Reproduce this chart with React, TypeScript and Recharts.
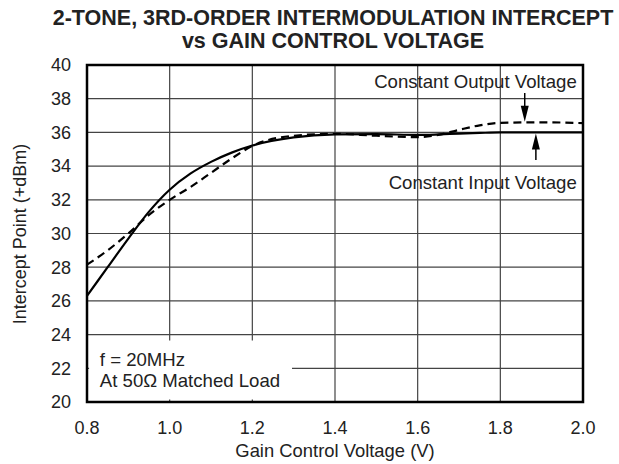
import React from 'react';
import {
  LineChart,
  Line,
  XAxis,
  YAxis,
  CartesianGrid,
  ReferenceArea,
  ReferenceLine,
  ReferenceDot,
} from 'recharts';

// gain control voltage (V)
const vgc = [0.8, 0.85, 0.9, 0.95, 1.0, 1.05, 1.1, 1.15, 1.2, 1.3, 1.4, 1.5, 1.6, 1.65, 1.7, 1.75, 1.8, 1.9, 2.0];
// intercept point (+dBm)
const constInput = [26.3, 28.0, 29.7, 31.3, 32.6, 33.55, 34.25, 34.8, 35.22, 35.7, 35.88, 35.9, 35.85, 35.88, 35.93, 35.97, 36.0, 36.0, 36.0];
const constOutput = [28.15, 29.0, 30.0, 31.1, 32.0, 32.75, 33.6, 34.45, 35.2, 35.8, 35.92, 35.8, 35.72, 35.85, 36.15, 36.42, 36.57, 36.6, 36.55];

const xTicks = [0.8, 1.0, 1.2, 1.4, 1.6, 1.8, 2.0];
const yTicks = [20, 22, 24, 26, 28, 30, 32, 34, 36, 38, 40];

const data = vgc.map((v, i) => ({ v, input: constInput[i], output: constOutput[i] }));

const FONT = '"Liberation Sans", Arial, Helvetica, sans-serif';

// text placed at a data point
const textAt = (value: string, anchor: 'start' | 'end') => (p: any) => (
  <text
    x={p.cx}
    y={p.cy}
    textAnchor={anchor}
    dominantBaseline="central"
    fontSize={18.6}
    fontFamily={FONT}
    fill="#222"
  >
    {value}
  </text>
);

// arrowhead with its tip at the point
const arrowHead = (dir: 'up' | 'down') => (p: any) => {
  const h = dir === 'down' ? -16 : 16;
  return (
    <polygon
      points={`${p.cx},${p.cy} ${p.cx - 4},${p.cy + h} ${p.cx + 4},${p.cy + h}`}
      fill="#000"
    />
  );
};

export default function App() {
  return (
    <div style={{ position: 'absolute', left: 0, top: 0, width: 619, height: 464, fontFamily: FONT, color: '#222' }}>
      <div style={{ position: 'absolute', left: 0, top: 7, width: 666, textAlign: 'center', fontWeight: 'bold', fontSize: 21.5, lineHeight: '23px', whiteSpace: 'nowrap' }}>
        2-TONE, 3RD-ORDER INTERMODULATION INTERCEPT
        <br />
        vs GAIN CONTROL VOLTAGE
      </div>
      <LineChart
        width={619}
        height={464}
        data={data}
        margin={{ top: 65, right: 36, bottom: 22, left: 27 }}
      >
        <CartesianGrid stroke="#444" strokeWidth={1.2} />
        <XAxis
          type="number"
          dataKey="v"
          domain={[0.8, 2.0]}
          ticks={xTicks}
          tickFormatter={(v) => v.toFixed(1)}
          tick={{ fill: '#222', fontSize: 18, fontFamily: FONT }}
          tickLine={false}
          axisLine={false}
          tickSize={0}
          tickMargin={19}
          height={40}
        />
        <YAxis
          type="number"
          domain={[20, 40]}
          ticks={yTicks}
          tick={{ fill: '#222', fontSize: 18, fontFamily: FONT }}
          tickLine={false}
          axisLine={false}
          tickSize={0}
          tickMargin={16}
          width={60}
        />
        <ReferenceArea x1={0.805} x2={1.296} y1={20.15} y2={23.65} fill="#fff" fillOpacity={1} stroke="none" />
        <ReferenceDot x={0.831} y={22.55} r={0} shape={textAt('f = 20MHz', 'start')} />
        <ReferenceDot x={0.831} y={21.3} r={0} shape={textAt('At 50Ω Matched Load', 'start')} />
        <ReferenceDot x={1.985} y={39.02} r={0} shape={textAt('Constant Output Voltage', 'end')} />
        <ReferenceDot x={1.985} y={33.03} r={0} shape={textAt('Constant Input Voltage', 'end')} />
        <ReferenceLine segment={[{ x: 1.859, y: 38.34 }, { x: 1.859, y: 37.3 }]} stroke="#000" strokeWidth={1.5} />
        <ReferenceDot x={1.859} y={36.63} r={0} shape={arrowHead('down')} />
        <ReferenceLine segment={[{ x: 1.886, y: 34.36 }, { x: 1.886, y: 35.3 }]} stroke="#000" strokeWidth={1.5} />
        <ReferenceDot x={1.886} y={35.93} r={0} shape={arrowHead('up')} />
        <Line
          type="monotone"
          dataKey="output"
          stroke="#000"
          strokeWidth={2.2}
          strokeDasharray="8 5"
          dot={false}
          isAnimationActive={false}
        />
        <Line
          type="monotone"
          dataKey="input"
          stroke="#000"
          strokeWidth={2.2}
          dot={false}
          isAnimationActive={false}
        />
        <ReferenceArea x1={0.8} x2={2.0} y1={20} y2={40} fill="none" stroke="#000" strokeWidth={2.5} />
      </LineChart>
      <div style={{ position: 'absolute', left: 87, top: 440, width: 496, textAlign: 'center', fontSize: 18.4 }}>
        Gain Control Voltage (V)
      </div>
      <div
        style={{
          position: 'absolute',
          left: 20,
          top: 234,
          fontSize: 18,
          whiteSpace: 'nowrap',
          transform: 'translate(-50%, -50%) rotate(-90deg)',
        }}
      >
        Intercept Point (+dBm)
      </div>
    </div>
  );
}
